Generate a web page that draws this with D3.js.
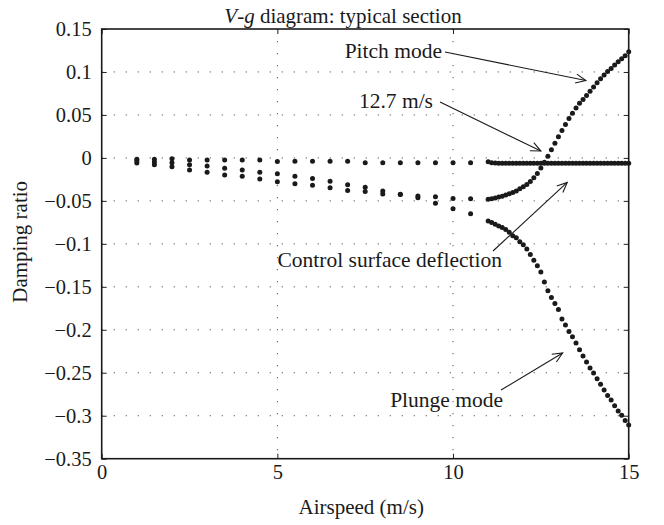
<!DOCTYPE html>
<html>
<head>
<meta charset="utf-8">
<script src="https://cdn.jsdelivr.net/npm/d3@7"></script>
<style>
  body { margin: 0; background: #fff; }
  svg text { font-family: "Liberation Serif", "DejaVu Serif", serif; fill: #1a1a1a; }
</style>
</head>
<body>
<div class="canvas"></div>
<script>
// airspeed samples (m/s)
const airspeed = [
  1, 1.5, 2, 2.5, 3, 3.5, 4, 4.5, 5, 5.5, 6, 6.5, 7, 7.5, 8, 8.5, 9, 9.5, 10, 10.5,
  11.0, 11.1, 11.2, 11.3, 11.4, 11.5, 11.6, 11.7, 11.8, 11.9,
  12.0, 12.1, 12.2, 12.3, 12.4, 12.5, 12.6, 12.7, 12.8, 12.9,
  13.0, 13.1, 13.2, 13.3, 13.4, 13.5, 13.6, 13.7, 13.8, 13.9,
  14.0, 14.1, 14.2, 14.3, 14.4, 14.5, 14.6, 14.7, 14.8, 14.9, 15.0
];

// damping ratio of each mode at those speeds
const controlMode = [
  -0.0017, -0.0017, -0.0009, -0.0024, -0.0024, -0.0024, -0.0024, -0.0024, -0.0042, -0.0040,
  -0.0040, -0.0040, -0.0040, -0.0055, -0.0055, -0.0055, -0.0055, -0.0055, -0.0055, -0.0055,
  -0.0045, -0.0055, -0.0060, -0.0062, -0.0063, -0.0063, -0.0063, -0.0063, -0.0063, -0.0063,
  -0.0063, -0.0063, -0.0063, -0.0063, -0.0063, -0.0063, -0.0063, -0.0063, -0.0063, -0.0063,
  -0.0063, -0.0063, -0.0063, -0.0063, -0.0063, -0.0063, -0.0063, -0.0063, -0.0063, -0.0063,
  -0.0063, -0.0063, -0.0063, -0.0063, -0.0063, -0.0063, -0.0063, -0.0063, -0.0063, -0.0063, -0.0063
];
const pitchMode = [
  -0.0037, -0.0048, -0.0055, -0.0079, -0.0094, -0.0121, -0.0141, -0.0168, -0.0184, -0.0214,
  -0.0241, -0.0272, -0.0311, -0.0342, -0.0384, -0.0422, -0.0442, -0.0453, -0.0472, -0.0476,
  -0.0480, -0.0475, -0.0466, -0.0455, -0.0445, -0.0432, -0.0418, -0.0403, -0.0385, -0.0360,
  -0.0335, -0.0310, -0.0275, -0.0232, -0.0180, -0.0118, -0.0050, 0.0020, 0.0095, 0.0170,
  0.0245, 0.0320, 0.0390, 0.0460, 0.0520, 0.0580, 0.0635, 0.0680, 0.0725, 0.0775,
  0.0825, 0.0875, 0.0920, 0.0965, 0.1005, 0.1040, 0.1080, 0.1120, 0.1155, 0.1190, 0.1235
];
const plungeMode = [
  -0.0060, -0.0079, -0.0102, -0.0141, -0.0168, -0.0199, -0.0214, -0.0246, -0.0276, -0.0301,
  -0.0317, -0.0348, -0.0379, -0.0391, -0.0419, -0.0426, -0.0465, -0.0528, -0.0592, -0.0650,
  -0.0735, -0.0752, -0.0773, -0.0792, -0.0810, -0.0832, -0.0865, -0.0905, -0.0930, -0.0975,
  -0.1010, -0.1060, -0.1125, -0.1190, -0.1255, -0.1328, -0.1445, -0.1545, -0.1625, -0.1695,
  -0.1765, -0.1875, -0.1945, -0.2020, -0.2080, -0.2155, -0.2232, -0.2305, -0.2375, -0.2445,
  -0.2502, -0.2570, -0.2635, -0.2700, -0.2765, -0.2817, -0.2885, -0.2945, -0.2995, -0.3055, -0.3108
];

const xTicks = [0, 5, 10, 15];
const xTickLabels = ['0', '5', '10', '15'];
const yTicks = [0.15, 0.1, 0.05, 0, -0.05, -0.1, -0.15, -0.2, -0.25, -0.3, -0.35];
const yTickLabels = ['0.15', '0.1', '0.05', '0', '\u22120.05', '\u22120.1', '\u22120.15',
  '\u22120.2', '\u22120.25', '\u22120.3', '\u22120.35'];

// annotations: label, text anchor point, arrow start (px), arrow target (data)
const notes = [
  { text: 'Pitch mode', tx: 442, ty: 58, from: [445, 52], to: [13.78, 0.090] },
  { text: '12.7 m/s', tx: 433, ty: 108, from: [440, 102], to: [12.5, 0.008] },
  { text: 'Control surface deflection', tx: 502, ty: 267, from: [493, 251], to: [13.25, -0.0285] },
  { text: 'Plunge mode', tx: 503, ty: 407, from: [501, 390], to: [13.12, -0.227] }
];

const W = 664, H = 525;
const margin = { top: 29, right: 35.3, bottom: 66.3, left: 101.7 };
const graphWidth = W - margin.left - margin.right;
const graphHeight = H - margin.top - margin.bottom;

const svg = d3.select('.canvas')
  .append('svg')
    .attr('width', W)
    .attr('height', H);

const graph = svg.append('g')
  .attr('transform', `translate(${margin.left},${margin.top})`);

const x = d3.scaleLinear().domain([0, 15]).range([0, graphWidth]);
const y = d3.scaleLinear().domain([-0.35, 0.15]).range([graphHeight, 0]);

// dotted grid
graph.append('g')
  .selectAll('line.gx')
  .data(xTicks.slice(1, -1))
  .enter().append('line')
    .attr('x1', d => x(d)).attr('x2', d => x(d))
    .attr('y1', 0).attr('y2', graphHeight)
    .attr('stroke', '#555').attr('stroke-width', 1)
    .attr('stroke-dasharray', '1.2,10.8');

graph.append('g')
  .selectAll('line.gy')
  .data(yTicks.slice(1, -1))
  .enter().append('line')
    .attr('x1', 0).attr('x2', graphWidth)
    .attr('y1', d => y(d)).attr('y2', d => y(d))
    .attr('stroke', '#555').attr('stroke-width', 1)
    .attr('stroke-dasharray', '1.2,10.8');

// axes with inward ticks
const fontSize = 20.5;
const noteSize = 21.5;
graph.append('g')
  .attr('transform', `translate(0,${graphHeight})`)
  .call(d3.axisBottom(x).tickValues(xTicks)
    .tickFormat((d, i) => xTickLabels[i]).tickSize(-5).tickPadding(6));
graph.append('g')
  .call(d3.axisLeft(y).tickValues(yTicks)
    .tickFormat((d, i) => yTickLabels[i]).tickSize(-5).tickPadding(10));
graph.append('g')
  .call(d3.axisTop(x).tickValues(xTicks).tickFormat('').tickSize(-5));
graph.append('g')
  .attr('transform', `translate(${graphWidth},0)`)
  .call(d3.axisRight(y).tickValues(yTicks).tickFormat('').tickSize(-5));

graph.selectAll('.domain').remove();
graph.selectAll('.tick line').attr('stroke', '#222').attr('stroke-width', 1);
graph.selectAll('.tick text')
  .attr('font-size', fontSize)
  .attr('font-family', '"Liberation Serif", serif')
  .attr('fill', '#1a1a1a');

// plot box
graph.append('rect')
  .attr('width', graphWidth)
  .attr('height', graphHeight)
  .attr('fill', 'none')
  .attr('stroke', '#1a1a1a')
  .attr('stroke-width', 1.6);

// points
const modes = [controlMode, pitchMode, plungeMode];
modes.forEach(vals => {
  graph.append('g')
    .selectAll('circle')
    .data(vals)
    .enter().append('circle')
      .attr('cx', (d, i) => x(airspeed[i]))
      .attr('cy', d => y(d))
      .attr('r', 2.5)
      .attr('fill', '#1a1a1a');
});

// annotations
const arrowHead = (x1, y1, x2, y2) => {
  const a = Math.atan2(y2 - y1, x2 - x1);
  const len = 11, spread = 0.42;
  const p1 = [x2 - len * Math.cos(a - spread), y2 - len * Math.sin(a - spread)];
  const p2 = [x2 - len * Math.cos(a + spread), y2 - len * Math.sin(a + spread)];
  return `M${p1[0]},${p1[1]}L${x2},${y2}L${p2[0]},${p2[1]}`;
};

notes.forEach(n => {
  const tx = margin.left + x(n.to[0]);
  const ty = margin.top + y(n.to[1]);
  svg.append('text')
    .attr('x', n.tx).attr('y', n.ty)
    .attr('text-anchor', 'end')
    .attr('font-size', noteSize)
    .text(n.text);
  svg.append('line')
    .attr('x1', n.from[0]).attr('y1', n.from[1])
    .attr('x2', tx).attr('y2', ty)
    .attr('stroke', '#1a1a1a').attr('stroke-width', 1.1);
  svg.append('path')
    .attr('d', arrowHead(n.from[0], n.from[1], tx, ty))
    .attr('fill', 'none')
    .attr('stroke', '#1a1a1a').attr('stroke-width', 1.1);
});

// titles
svg.append('text')
  .attr('x', 343).attr('y', 23)
  .attr('text-anchor', 'middle')
  .attr('font-size', 21)
  .html('<tspan font-style="italic">V</tspan>-<tspan font-style="italic">g</tspan> diagram: typical section');

svg.append('text')
  .attr('x', margin.left + graphWidth / 2 - 4).attr('y', 514)
  .attr('text-anchor', 'middle')
  .attr('font-size', 21)
  .text('Airspeed (m/s)');

svg.append('text')
  .attr('transform', `translate(27,${margin.top + graphHeight / 2 - 2}) rotate(-90)`)
  .attr('text-anchor', 'middle')
  .attr('font-size', 21)
  .text('Damping ratio');
</script>
</body>
</html>
